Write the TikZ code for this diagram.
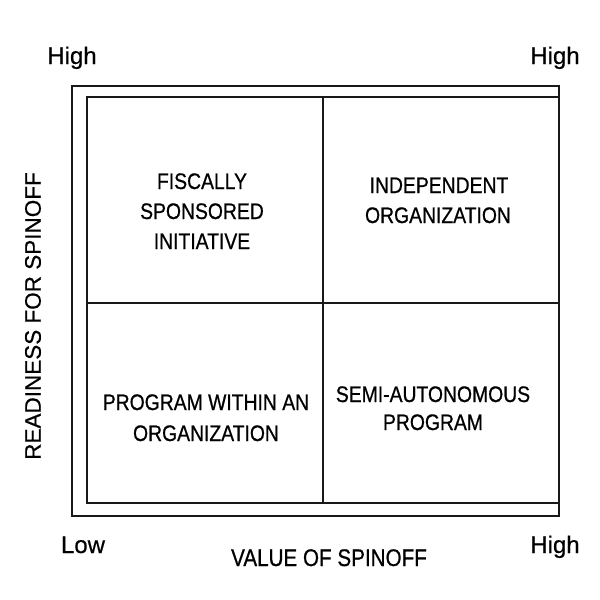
\documentclass[tikz,border=0pt]{standalone}
\usepackage{fontspec}
\setmainfont[FakeBold=0.5]{Liberation Sans}
\newfontfamily\condfont[FakeStretch=0.86,FakeBold=0.7]{Liberation Sans}
\newfontfamily\plainfont[FakeBold=0.5]{Liberation Sans}
\begin{document}
\begin{tikzpicture}[x=1pt,y=-1pt,
  frame/.style={draw=black!90,line width=2.2pt},
  quadtext/.style={font=\condfont\fontsize{22.5}{26}\selectfont,anchor=base,inner sep=0pt,text=black},
  axtext/.style={font=\condfont\fontsize{24}{28}\selectfont,anchor=base,inner sep=0pt,text=black},
  endtext/.style={font=\plainfont\fontsize{24}{28}\selectfont,anchor=base,inner sep=0pt,text=black}]
\useasboundingbox[fill=white] (0,0) rectangle (600,600);
% frames
\coordinate (oTL) at (72,86);
\coordinate (oBR) at (559,516);
\coordinate (iTL) at (87,97);
\coordinate (iBR) at (559,503);
\draw[frame] (oTL) rectangle (oBR);
\draw[frame] (iTL) rectangle (iBR);
\coordinate (vT) at (323,97);
\coordinate (vB) at (323,503);
\coordinate (hL) at (87,303);
\coordinate (hR) at (559,303);
\draw[frame] (vT) -- (vB);
\draw[frame] (hL) -- (hR);
% quadrant texts
\node[quadtext] (tl1) at (202,189) {FISCALLY};
\node[quadtext] (tl2) at (202,219) {SPONSORED};
\node[quadtext] (tl3) at (202,249) {INITIATIVE};
\node[quadtext] (tr1) at (439,193) {INDEPENDENT};
\node[quadtext] (tr2) at (438,223) {ORGANIZATION};
\node[quadtext] (bl1) at (206,410) {PROGRAM WITHIN AN};
\node[quadtext] (bl2) at (206,441) {ORGANIZATION};
\node[quadtext] (br1) at (433,402) {SEMI-AUTONOMOUS};
\node[quadtext] (br2) at (433,430) {PROGRAM};
% axes labels
\node[axtext] (xlab) at (329,566) {VALUE OF SPINOFF};
\node[font=\plainfont\fontsize{22.5}{26}\selectfont,inner sep=0pt,rotate=90,text=black] (ylab) at (33,316) {READINESS FOR SPINOFF};
\node[endtext] (hiTL) at (72,64) {High};
\node[endtext] (hiTR) at (555,64) {High};
\node[endtext] (lowBL) at (83,553) {Low};
\node[endtext] (hiBR) at (555,553) {High};
\end{tikzpicture}
\end{document}
